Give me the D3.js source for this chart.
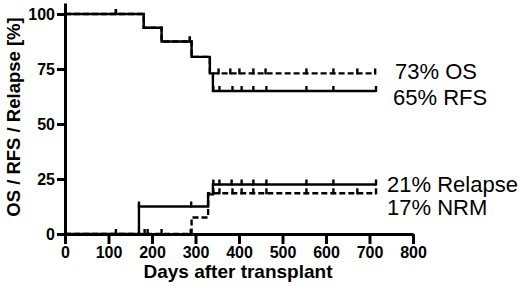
<!DOCTYPE html>
<html>
<head>
<meta charset="utf-8">
<script src="https://cdn.jsdelivr.net/npm/d3@7"></script>
<style>
  body { margin: 0; background: #fff; }
  svg { display: block; font-family: "Liberation Sans", Arial, sans-serif; }
</style>
</head>
<body>
<div id="chart"></div>
<script>
// step curves: [day, percent]
const osSteps = [[0, 100], [181, 93.75], [222, 87.5], [291, 80.5], [333, 73], [715, 73]];
const rfsSteps = [[0, 100], [181, 93.75], [222, 87.5], [291, 80.5], [333, 73], [340, 65], [715, 65]];
const relapseSteps = [[0, 0], [170, 12.5], [329, 18], [340, 22.5], [715, 22.5]];
const nrmSteps = [[0, 0], [291, 7.5], [329, 18.5], [715, 18.5]];

// censored observations (days)
const osCensor = [117, 287, 353, 380, 401, 433, 461, 555, 617, 672, 713];
const rfsCensor = [117, 287, 341, 355, 385, 406, 433, 463, 555, 617, 715];
const relapseCensor = [170, 290, 341, 355, 383, 406, 433, 463, 555, 617, 715];
const nrmCensor = [117, 183, 190, 222, 289, 341, 355, 385, 406, 433, 463, 555, 617, 672, 715];

const xTicks = [0, 100, 200, 300, 400, 500, 600, 700, 800];
const yTicks = [0, 25, 50, 75, 100];

const endLabels = [
  { text: "73% OS", value: 73, x: 395, dy: 6 },
  { text: "65% RFS", value: 65, x: 393, dy: 14 },
  { text: "21% Relapse", value: 22.5, x: 387, dy: 7 },
  { text: "17% NRM", value: 18.5, x: 387, dy: 22 }
];

const width = 520, height = 292;

const svg = d3.select("#chart").append("svg")
  .attr("width", width)
  .attr("height", height);

const x = d3.scaleLinear().domain([0, 800]).range([65, 413]);
const y = d3.scaleLinear().domain([0, 105]).range([234, 3]);

function valueAt(steps, day) {
  let v = steps[0][1];
  steps.forEach(s => { if (s[0] <= day) v = s[1]; });
  return v;
}

const line = d3.line()
  .x(d => x(d[0]))
  .y(d => y(d[1]))
  .curve(d3.curveStepAfter);

const series = [
  { steps: osSteps, censor: osCensor, dash: "6,3" },
  { steps: nrmSteps, censor: nrmCensor, dash: "6,3" },
  { steps: rfsSteps, censor: rfsCensor, dash: null },
  { steps: relapseSteps, censor: relapseCensor, dash: null }
];

// axes
const xAxis = svg.append("g")
  .attr("transform", `translate(0,${y(0)})`)
  .call(d3.axisBottom(x).tickValues(xTicks).tickSize(10).tickSizeOuter(0).tickPadding(3));

const yAxis = svg.append("g")
  .attr("transform", `translate(${x(0)},0)`)
  .call(d3.axisLeft(y).tickValues(yTicks).tickSize(8).tickSizeOuter(0).tickPadding(2));

[xAxis, yAxis].forEach(g => {
  g.select(".domain").attr("stroke", "#000").attr("stroke-width", 3);
  g.selectAll(".tick line").attr("stroke", "#000").attr("stroke-width", 3);
  g.selectAll(".tick text")
    .attr("fill", "#000")
    .style("font-size", "16px")
    .style("font-weight", "bold")
    .style("font-family", "'Liberation Sans', Arial, sans-serif");
});

// curves
series.forEach(s => {
  svg.append("path")
    .datum(s.steps)
    .attr("d", line)
    .attr("fill", "none")
    .attr("stroke", "#000")
    .attr("stroke-width", 2.4)
    .attr("stroke-dasharray", s.dash);

  svg.selectAll(null)
    .data(s.censor)
    .enter()
    .append("line")
    .attr("x1", d => x(d))
    .attr("x2", d => x(d))
    .attr("y1", d => y(valueAt(s.steps, d)) + 1)
    .attr("y2", d => y(valueAt(s.steps, d)) - 5)
    .attr("stroke", "#000")
    .attr("stroke-width", 2.4);
});

// end labels
svg.selectAll(".endLabel")
  .data(endLabels)
  .enter()
  .append("text")
  .attr("class", "endLabel")
  .attr("x", d => d.x)
  .attr("y", d => y(d.value) + d.dy)
  .style("font-size", "22px")
  .text(d => d.text);

// axis titles
svg.append("text")
  .attr("x", 238)
  .attr("y", 278)
  .attr("text-anchor", "middle")
  .style("font-size", "19px")
  .style("font-weight", "bold")
  .text("Days after transplant");

svg.append("text")
  .attr("transform", "translate(20,117) rotate(-90)")
  .attr("text-anchor", "middle")
  .style("font-size", "18.5px")
  .style("font-weight", "bold")
  .text("OS / RFS / Relapse [%]");
</script>
</body>
</html>
